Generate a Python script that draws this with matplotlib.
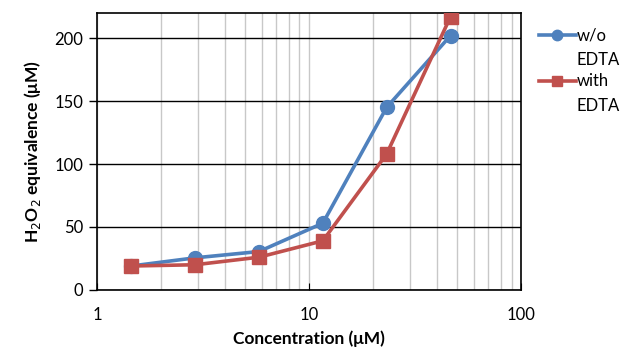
import numpy as np
import matplotlib.pyplot as plt
from matplotlib.ticker import LogLocator, FixedLocator, NullFormatter

plt.rcParams['font.family'] = ['Lato', 'DejaVu Sans']

conc = [1.45, 2.9, 5.8, 11.6, 23.2, 46.4]
wo_edta = [19, 25.5, 30.5, 53, 145, 202]
with_edta = [19, 20, 26, 39, 108, 217]
series_labels = ["w/o", "with"]
label_second_line = "EDTA"

fig = plt.figure(figsize=(6.22, 3.51), dpi=100)
ax = fig.add_axes([0.156, 0.174, 0.682, 0.789])

ax.plot(conc, wo_edta, color='#4F81BD', lw=2.6, marker='o', ms=10,
        label=series_labels[0], zorder=3)
ax.plot(conc, with_edta, color='#C0504D', lw=2.6, marker='s', ms=10,
        label=series_labels[1], zorder=4)

ax.set_xscale('log')
ax.set_xlim(1, 100)
ax.set_ylim(0, 220)
ax.set_yticks([0, 50, 100, 150, 200])
ax.xaxis.set_major_locator(FixedLocator([1, 10, 100]))
ax.set_xticklabels(['1', '10', '100'])
ax.xaxis.set_minor_locator(LogLocator(base=10, subs=np.arange(1, 10)))
ax.xaxis.set_minor_formatter(NullFormatter())

ax.grid(True, which='both', axis='x', color='#c8c8c8', lw=1)
ax.grid(True, which='major', axis='y', color='black', lw=1)
ax.set_axisbelow(True)

ax.tick_params(axis='x', which='major', direction='in', length=5, pad=12,
               labelsize=12)
ax.tick_params(axis='x', which='minor', length=0)
ax.tick_params(axis='y', direction='out', length=6, width=1, labelsize=12,
               pad=4)
for s in ax.spines.values():
    s.set_linewidth(1.2)

ax.set_xlabel("Concentration (μM)", fontsize=12.5, fontweight='bold', labelpad=6)
ax.set_ylabel("H$_2$O$_2$ equivalence (μM)", fontsize=12.5, fontweight='bold',
              labelpad=8)

leg = ax.legend(loc='upper left', bbox_to_anchor=(1.014, 0.99), frameon=False,
                fontsize=12, handlelength=2.2, handletextpad=0.05,
                labelspacing=1.8, borderaxespad=0.3, markerscale=0.75)

# second line of each legend label, placed under the first
fig.canvas.draw()
for t in leg.get_texts():
    bb = t.get_window_extent()
    fig.text(bb.x0 / fig.bbox.width, (bb.y0 - 25) / fig.bbox.height,
             label_second_line, fontsize=12, ha='left', va='bottom')

fig.savefig("out.png", dpi=100)
